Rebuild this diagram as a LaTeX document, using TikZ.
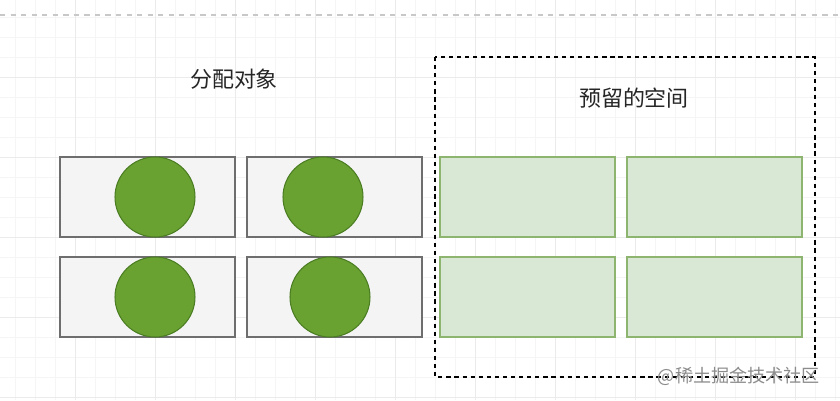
\documentclass[tikz,border=0pt]{standalone}
\usepackage{fontspec}
\newfontfamily\cjk{Noto Sans CJK SC}
\usetikzlibrary{positioning}
\definecolor{gridminor}{HTML}{F5F5F5}
\definecolor{gridmajor}{HTML}{EBEBEB}
\definecolor{topline}{HTML}{C8C8C8}
\definecolor{boxgray}{HTML}{6E6E6E}
\definecolor{boxfill}{HTML}{F4F4F4}
\definecolor{ballfill}{HTML}{6AA232}
\definecolor{balldraw}{HTML}{4B7D22}
\definecolor{freefill}{HTML}{D9E8D5}
\definecolor{freedraw}{HTML}{8DB570}
\definecolor{markgray}{HTML}{8C8C8C}
\tikzset{
  objbox/.style={draw=boxgray, fill=boxfill, line width=1.1pt, outer sep=0pt,
    minimum width=3.5cm, minimum height=1.6cm, inner sep=0pt},
  freebox/.style={draw=freedraw, fill=freefill, line width=0.9pt, outer sep=0pt,
    minimum width=3.5cm, minimum height=1.6cm, inner sep=0pt},
  ball/.style={circle, draw=balldraw, fill=ballfill, line width=0.6pt,
    minimum size=1.6cm, inner sep=0pt},
  title/.style={font=\cjk\fontsize{12.5}{15}\selectfont, text=black!85}
}
\begin{document}
\begin{tikzpicture}[x=0.02cm,y=-0.02cm]
  \useasboundingbox (0,0) rectangle (840,400);
  \fill[white] (0,0) rectangle (840,400);
  % background grid
  \foreach \gx in {15,35,...,835}
    \draw[gridminor,line width=0.4pt] (\gx,0) -- (\gx,400);
  \foreach \gy in {17,37,...,397}
    \draw[gridminor,line width=0.4pt] (0,\gy) -- (840,\gy);
  \foreach \gx in {75,155,...,795}
    \draw[gridmajor,line width=0.5pt] (\gx,0) -- (\gx,400);
  \foreach \gy in {77,157,...,397}
    \draw[gridmajor,line width=0.5pt] (0,\gy) -- (840,\gy);
  \draw[topline,dashed,line width=0.6pt] (0,15) -- (840,15);

  % allocated objects
  \node[objbox] (obj11) at (147.5,197) {};
  \node[objbox, right=0.24cm of obj11] (obj12) {};
  \node[objbox, below=0.4cm of obj11] (obj21) {};
  \node[objbox, right=0.24cm of obj21] (obj22) {};
  \node[ball] (ball11) at (155,197) {};
  \node[ball] (ball12) at (323,197) {};
  \node[ball] (ball21) at (155,297) {};
  \node[ball] (ball22) at (330,297) {};
  \node[title] (alloc) at (234,79) {分配对象};

  % reserved space
  \node[freebox] (free11) at (527.5,197) {};
  \node[freebox, right=0.24cm of free11] (free12) {};
  \node[freebox, below=0.4cm of free11] (free21) {};
  \node[freebox, right=0.24cm of free21] (free22) {};
  \draw[black,line width=1.1pt,dash pattern=on 2.4pt off 2.2pt]
    (435,57) rectangle (815,377);
  \node[title] (reserved) at (634,98) {预留的空间};

  \node[anchor=east, text=markgray, font=\cjk\fontsize{10.3}{12}\selectfont]
    (wmark) at (826,376) {@稀土掘金技术社区};
\end{tikzpicture}
\end{document}
